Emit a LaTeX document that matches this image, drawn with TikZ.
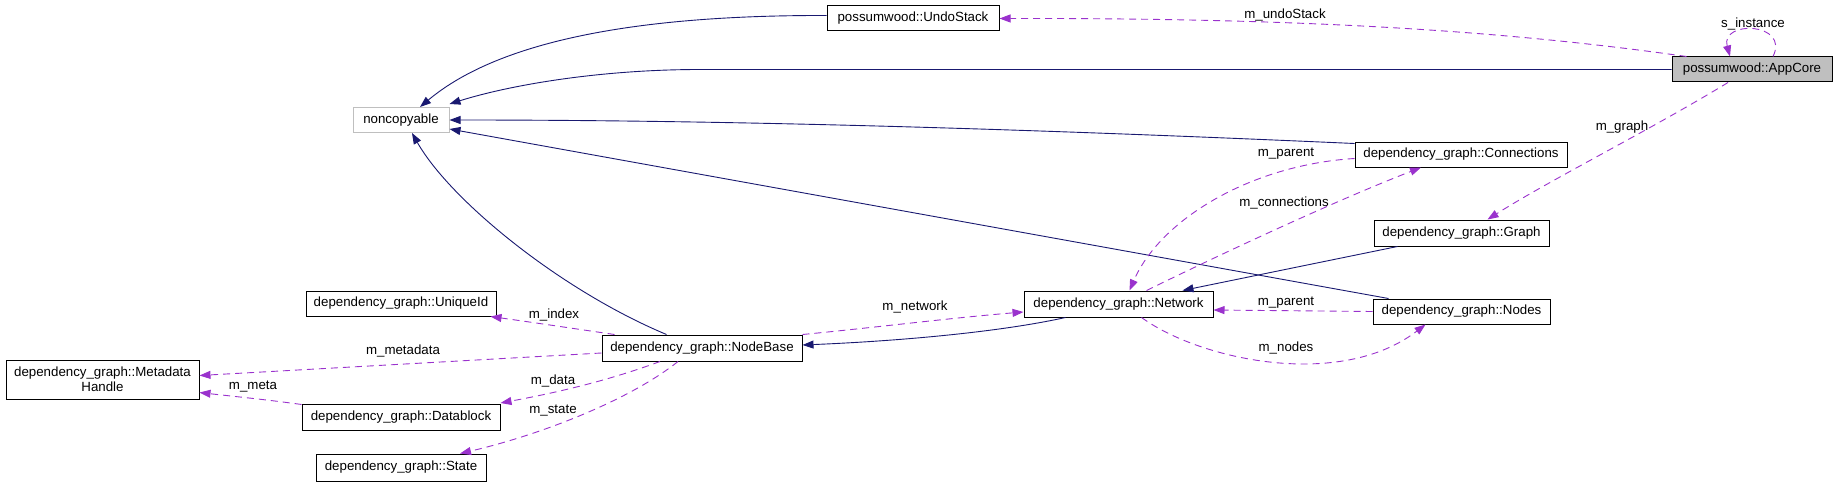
\documentclass[tikz,border=0pt]{standalone}
\usepackage{fontspec}
\setmainfont{Liberation Sans}
\usetikzlibrary{arrows.meta}
\definecolor{inhcol}{HTML}{191970}
\definecolor{usecol}{HTML}{9A32CD}
\definecolor{boxgrey}{HTML}{BFBFBF}
\begin{document}
\begin{tikzpicture}[x=1pt,y=-1pt,
		classbox/.style={draw=black, line width=1pt, fill=white, inner sep=0pt, minimum height=25pt, font=\fontsize{13.3}{15}\selectfont},
		inherit/.style={draw=inhcol, line width=0.9pt, -{Triangle[length=11pt,width=8pt]}},
		usage/.style={draw=usecol, line width=0.9pt, dash pattern=on 7pt off 5pt, -{Triangle[length=11pt,width=8pt,fill=usecol]}},
		lbl/.style={inner sep=0pt, font=\fontsize{13.3}{15}\selectfont}]
	\useasboundingbox (0,0) rectangle (1837,487);
	% classes
	\node[classbox, draw=boxgrey, minimum width=96pt] (noncopyable) at (401,120) {noncopyable};
	\node[classbox, minimum width=172pt] (undo) at (913,18.5) {possumwood::UndoStack};
	\node[classbox, fill=boxgrey, minimum width=160pt] (appcore) at (1752,69.5) {possumwood::AppCore};
	\node[classbox, minimum width=212pt] (conn) at (1461,154.5) {dependency\_graph::Connections};
	\node[classbox, minimum width=175pt, minimum height=26pt] (graph) at (1461.5,233) {dependency\_graph::Graph};
	\node[classbox, minimum width=177pt] (nodes) at (1461.5,311.5) {dependency\_graph::Nodes};
	\node[classbox, minimum width=189pt, minimum height=26pt] (network) at (1118.5,304) {dependency\_graph::Network};
	\node[classbox, minimum width=200pt, minimum height=26pt] (nodebase) at (702,348) {dependency\_graph::NodeBase};
	\node[classbox, minimum width=190pt] (uniqueid) at (401,303.5) {dependency\_graph::UniqueId};
	\node[classbox, minimum width=193pt, minimum height=39pt, align=center] (meta) at (102.5,379.5) {dependency\_graph::Metadata\\Handle};
	\node[classbox, minimum width=198pt, minimum height=26pt] (datablock) at (401,417) {dependency\_graph::Datablock};
	\node[classbox, minimum width=170pt, minimum height=27pt] (state) at (401,467.5) {dependency\_graph::State};

	% inheritance
	\draw[inherit] ([yshift=3pt]undo.west) .. controls (640,15) and (500,40) .. ([xshift=19pt]noncopyable.north);
	\draw[inherit] (appcore.west) -- (700,69.5) .. controls (600,69.5) and (510,85) .. ([yshift=3pt]noncopyable.north east);
	\draw[inherit] ([yshift=-2pt]conn.north west) .. controls (1050,130) and (750,120) .. (noncopyable.east);
	\draw[inherit] ([xshift=16pt]nodes.north west) -- ([yshift=4pt]noncopyable.south east);
	\draw[inherit] ([xshift=65pt]nodebase.north west) .. controls (560,290) and (450,200) .. ([xshift=11pt]noncopyable.south);
	\draw[inherit] ([xshift=24pt]graph.south west) -- ([xshift=-31pt]network.north east);
	\draw[inherit] ([xshift=-53pt]network.south) .. controls (1000,332) and (900,341) .. ([yshift=3pt]nodebase.east);

	% members
	\draw[usage] ([xshift=15pt]appcore.north west) .. controls (1500,30) and (1300,18) .. (undo.east);
	\node[lbl] (lundo) at (1285,15) {m\_undoStack};
	\draw[usage] ([xshift=21pt]appcore.north) .. controls (1790,22) and (1720,20) .. ([xshift=-22pt]appcore.north);
	\node[lbl] (linst) at (1753,24) {s\_instance};
	\draw[usage] ([xshift=-24pt]appcore.south) .. controls (1650,130) and (1550,180) .. ([xshift=26pt]graph.north);
	\node[lbl] (lgraph) at (1622,127) {m\_graph};
	\draw[usage] ([yshift=-4pt]conn.west) .. controls (1250,165) and (1160,220) .. ([xshift=11pt]network.north);
	\node[lbl] (lparent) at (1286,154) {m\_parent};
	\draw[usage] ([xshift=28pt]network.north) .. controls (1250,240) and (1350,195) .. ([xshift=-40pt]conn.south);
	\node[lbl] (lconn) at (1284,203) {m\_connections};
	\draw[usage] (nodes.west) -- ([yshift=-6pt]network.east);
	\node[lbl] (lparent2) at (1286,303) {m\_parent};
	\draw[usage] ([xshift=23pt]network.south) .. controls (1200,360) and (1340,390) .. ([xshift=-36pt]nodes.south);
	\node[lbl] (lnodes) at (1286,348) {m\_nodes};
	\draw[usage] (nodebase.north east) .. controls (880,327) and (950,318) .. ([yshift=-8pt]network.west);
	\node[lbl] (lnetwork) at (915,307) {m\_network};
	\draw[usage] ([xshift=13pt]nodebase.north west) .. controls (570,328) and (530,322) .. ([xshift=-6pt]uniqueid.south east);
	\node[lbl] (lindex) at (554,315) {m\_index};
	\draw[usage] ([yshift=-5pt]nodebase.west) -- ([yshift=4pt]meta.east);
	\node[lbl] (lmetadata) at (403,351) {m\_metadata};
	\draw[usage] ([xshift=-42pt]nodebase.south) .. controls (610,380) and (560,392) .. ([yshift=14pt]datablock.east);
	\node[lbl] (ldata) at (553,381) {m\_data};
	\draw[usage] ([xshift=-24pt]nodebase.south) .. controls (630,400) and (540,435) .. ([xshift=59pt]state.north);
	\node[lbl] (lstate) at (553,411) {m\_state};
	\draw[usage] ([yshift=-1pt]datablock.north west) .. controls (270,400) and (230,396) .. ([yshift=-13pt]meta.east);
	\node[lbl] (lmeta) at (253,387) {m\_meta};
\end{tikzpicture}
\end{document}
